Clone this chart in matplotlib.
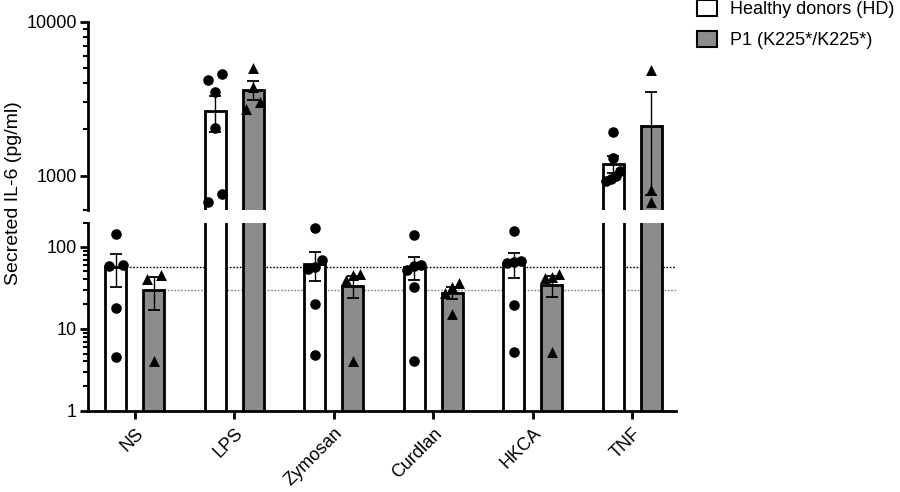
import numpy as np
import matplotlib.pyplot as plt
from matplotlib.patches import Patch
from matplotlib.ticker import FixedLocator, NullFormatter

plt.rcParams['font.family'] = ['Liberation Sans', 'DejaVu Sans']
plt.rcParams['font.size'] = 13

#- values (pg/ml)
stimuli = ['NS', 'LPS', 'Zymosan', 'Curdlan', 'HKCA', 'TNF']
hd_values = [
    [143, 60, 58, 18, 4.5],
    [4560, 4190, 3480, 2055, 761, 676],
    [168, 69, 57, 54, 20, 4.8],
    [139, 58, 60, 52, 32, 4.1],
    [155, 66, 68, 63, 19.5, 5.2],
    [1920, 1300, 1080, 1000, 960, 930],
]
p1_values = [
    [45, 40, 4],
    [4990, 3790, 3007, 2720],
    [46, 45, 39, 4],
    [36, 32, 27, 15],
    [47, 43, 42, 5.2],
    [4860, 811, 681],
]
series_labels = ['Healthy donors (HD)', 'P1 (K225*/K225*)']

#- mean +/- SEM
def mean_sem(groups):
    m = np.array([np.mean(g) for g in groups])
    s = np.array([np.std(g, ddof=1) / np.sqrt(len(g)) for g in groups])
    return m, s

hd_mean, hd_sem = mean_sem(hd_values)
p1_mean, p1_sem = mean_sem(p1_values)

grey = '#8c8c8c'
x = np.arange(len(stimuli))
off = 0.19
bw = 0.21
xlim = (-0.47, 5.44)
lo_lim = (1, 195)
hi_lim = (600, 10000)

fig = plt.figure(figsize=(9, 4.92), dpi=100)
ax_hi = fig.add_axes([0.0978, 0.5732, 0.6533, 0.3827])
ax_lo = fig.add_axes([0.0978, 0.165, 0.6533, 0.3817])

for ax, lim in ((ax_hi, hi_lim), (ax_lo, lo_lim)):
    ax.set_yscale('log')
    ax.set_xlim(*xlim)
    ax.set_ylim(*lim)
    ax.bar(x - off, hd_mean - 0.1, bottom=0.1, width=bw, color='white',
           edgecolor='black', linewidth=2, zorder=2)
    ax.bar(x + off, p1_mean - 0.1, bottom=0.1, width=bw, color=grey,
           edgecolor='black', linewidth=2, zorder=2)
    ax.errorbar(x - off, hd_mean, yerr=hd_sem, fmt='none', ecolor='black',
                elinewidth=1, capsize=4, capthick=1.3, zorder=3)
    ax.errorbar(x + off, p1_mean, yerr=p1_sem, fmt='none', ecolor='black',
                elinewidth=1, capsize=4, capthick=1.3, zorder=3)
    for side in ['top', 'right']:
        ax.spines[side].set_visible(False)
    for side in ['left', 'bottom']:
        ax.spines[side].set_linewidth(2)
    ax.tick_params(axis='y', which='major', width=2, length=6, pad=2)
    ax.tick_params(axis='y', which='minor', width=1.5, length=3.5)
    ax.yaxis.set_minor_formatter(NullFormatter())

ax_hi.spines['bottom'].set_visible(False)
ax_hi.set_xticks([])
ax_hi.yaxis.set_major_locator(FixedLocator([1000, 10000]))
ax_hi.yaxis.set_minor_locator(FixedLocator([600, 2000, 3000, 4000, 5000, 6000, 7000, 8000, 9000]))
ax_hi.set_yticklabels(['1000', '10000'])

ax_lo.yaxis.set_major_locator(FixedLocator([1, 10, 100]))
ax_lo.yaxis.set_minor_locator(FixedLocator([2, 3, 4, 5, 6, 7, 8, 9, 20, 30, 40, 50, 60, 70, 80, 90, 195]))
ax_lo.set_yticklabels(['1', '10', '100'])
ax_lo.set_xticks(x)
ax_lo.set_xticklabels(stimuli, rotation=45, ha='right', rotation_mode='anchor')
ax_lo.tick_params(axis='x', width=2, length=6, pad=4)

#- reference lines at NS means
ax_lo.hlines(hd_mean[0], x[0] - off + bw / 2, xlim[1], colors='black',
             linestyles=(0, (1.2, 1.2)), linewidth=1, zorder=1)
ax_lo.hlines(p1_mean[0], x[0] + off + bw / 2, xlim[1], colors='#808080',
             linestyles=(0, (1.2, 1.2)), linewidth=1, zorder=1)

#- spread overlapping points sideways (pixels -> data units)
px_per_unit = ax_lo.transData.transform((1, 1))[0] - ax_lo.transData.transform((0, 1))[0]

def spread(vals):
    ypix = []
    for v in vals:
        a = ax_hi if v >= hi_lim[0] else ax_lo
        ypix.append(a.transData.transform((0, v))[1])
    order = np.argsort(ypix)
    offs = np.zeros(len(vals))
    clusters = [[order[0]]]
    for i in order[1:]:
        if ypix[i] - ypix[clusters[-1][-1]] < 10:
            clusters[-1].append(i)
        else:
            clusters.append([i])
    for c in clusters:
        if len(c) > 1:
            offs[c] = np.linspace(-7, 7, len(c)) / px_per_unit
    return offs

for i in range(len(stimuli)):
    for vals, sx, mk, sz in ((hd_values[i], -off, 'o', 58), (p1_values[i], off, '^', 62)):
        xs = x[i] + sx + spread(vals)
        for ax in (ax_hi, ax_lo):
            ax.scatter(xs, vals, marker=mk, s=sz, color='black', linewidths=0, zorder=5)

fig.text(0.015, 1 - 193.5 / 492, 'Secreted IL-6 (pg/ml)', rotation=90,
         ha='center', va='center', fontsize=14)

handles = [Patch(facecolor='white', edgecolor='black', linewidth=1.5),
           Patch(facecolor=grey, edgecolor='black', linewidth=1.5)]
fig.legend(handles, series_labels, loc='upper left', bbox_to_anchor=(697 / 900, 1.0),
           frameon=False, borderpad=0, borderaxespad=0, handlelength=1.1,
           handleheight=1.0, handletextpad=0.7, labelspacing=0.7)

fig.savefig('out.png', dpi=100)
